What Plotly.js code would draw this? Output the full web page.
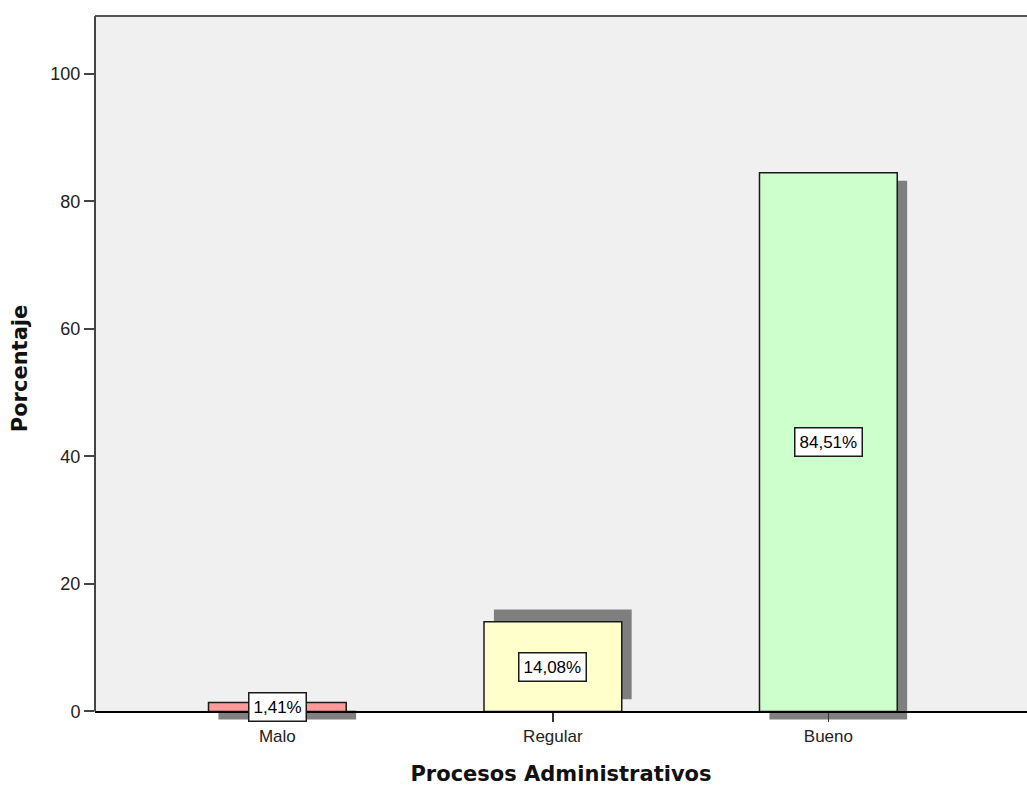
<!DOCTYPE html>
<html>
<head>
<meta charset="utf-8">
<script src="https://cdn.plot.ly/plotly-3.0.1.min.js"></script>
<style>
  html, body { margin: 0; padding: 0; background: #ffffff; }
  #chart { width: 1027px; height: 786px; }
</style>
</head>
<body>
<div id="chart"></div>
<script>
// Distribución porcentual de Procesos Administrativos
const categories = ['Malo', 'Regular', 'Bueno'];
const percentages = [1.41, 14.08, 84.51];
const barColors = ['#FF9A9A', '#FFFFCC', '#CCFFCC'];
const labels = ['1,41%', '14,08%', '84,51%'];
const yTicks = [0, 20, 40, 60, 80, 100];

// Drop-shadow placement, in axis units (horizontal in categories, vertical in %)
const shadowDx = 0.036;
const shadowBase = [-1.26, 1.9, -1.26];

// Value range; a little room under zero so the shadows can hang below the baseline
const yMin = -1.5;
const yMax = 109.1;

const xIdx = categories.map((_, i) => i);
const halfW = 0.25;

const shadow = {
  type: 'bar',
  x: xIdx,
  y: percentages,
  base: shadowBase,
  width: 2 * halfW,
  offset: -halfW + shadowDx,
  marker: { color: '#7F7F7F', line: { width: 0 } },
  hoverinfo: 'skip',
  showlegend: false
};

const bars = {
  type: 'bar',
  x: xIdx,
  y: percentages,
  width: 2 * halfW,
  offset: -halfW,
  marker: { color: barColors, line: { color: '#1a1a1a', width: 1.5 } },
  showlegend: false
};

const labelFont = { family: 'Liberation Sans, Arial, sans-serif', size: 17, color: '#000000' };

const annotations = xIdx.map((x, i) => ({
  x: x,
  y: percentages[i] / 2,
  xref: 'x',
  yref: 'y',
  text: labels[i],
  showarrow: false,
  bgcolor: '#ffffff',
  bordercolor: '#1a1a1a',
  borderwidth: 1.5,
  borderpad: 4,
  font: labelFont
}));

const titleFont = { family: 'DejaVu Sans, Verdana, sans-serif', size: 21, color: '#111111', weight: 'bold' };

const layout = {
  width: 1027,
  height: 786,
  margin: { l: 95, r: 0, t: 16, b: 65 },
  paper_bgcolor: '#ffffff',
  plot_bgcolor: '#ffffff',
  barmode: 'overlay',
  font: { family: 'Liberation Sans, Arial, sans-serif', color: '#222222' },
  xaxis: {
    range: [-0.662, 2.721],
    tickvals: xIdx,
    ticktext: categories,
    anchor: 'free',
    position: (0 - yMin) / (yMax - yMin),
    ticks: 'outside',
    ticklen: 9,
    tickwidth: 1.5,
    tickcolor: '#333333',
    tickfont: { size: 17, color: '#222222' },
    showline: true,
    linecolor: '#000000',
    linewidth: 1.5,
    showgrid: false,
    zeroline: false,
    fixedrange: true,
    title: {
      text: 'Procesos Administrativos',
      font: titleFont,
      standoff: 22
    }
  },
  yaxis: {
    range: [yMin, yMax],
    tickvals: yTicks,
    ticks: 'outside',
    ticklen: 10,
    tickwidth: 2,
    tickcolor: '#444444',
    tickfont: { size: 18, color: '#222222' },
    showline: false,
    showgrid: false,
    zeroline: false,
    fixedrange: true,
    title: {
      text: 'Porcentaje',
      font: titleFont,
      standoff: 17
    }
  },
  annotations: annotations,
  shapes: [
    // plot background above the baseline
    { type: 'rect', xref: 'paper', yref: 'y', x0: 0, x1: 1, y0: 0, y1: yMax,
      fillcolor: '#F0F0F0', line: { width: 0 }, layer: 'below' },
    // vertical axis line, from the baseline up
    { type: 'line', xref: 'paper', yref: 'y', x0: 0, x1: 0, y0: 0, y1: yMax,
      line: { color: '#444444', width: 2 } },
    // top frame line
    { type: 'line', xref: 'paper', yref: 'paper', x0: 0, x1: 1, y0: 1, y1: 1,
      line: { color: '#555555', width: 2 } }
  ]
};

Plotly.newPlot('chart', [shadow, bars], layout, { displayModeBar: false, staticPlot: true });
</script>
</body>
</html>
